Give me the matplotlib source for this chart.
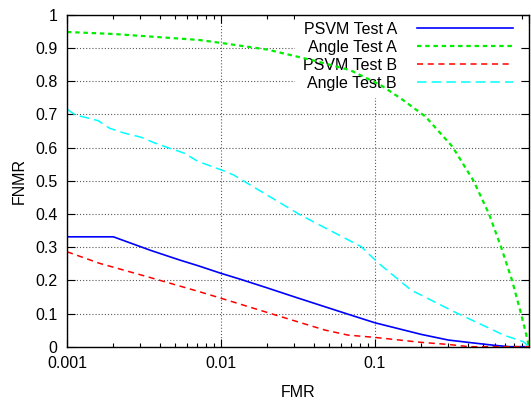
import matplotlib
matplotlib.use("Agg")
import matplotlib.pyplot as plt
from matplotlib.ticker import FixedLocator, LogLocator, NullFormatter

plt.rcParams['font.family'] = ['Liberation Sans', 'DejaVu Sans']
plt.rcParams['font.size'] = 11.5

# ROC-style error curves (FNMR vs FMR)
psvm_a_fmr = [0.001, 0.002, 0.0035, 0.0054, 0.0072, 0.01, 0.0134, 0.02, 0.03,
              0.0667, 0.1, 0.2, 0.3, 0.46, 0.6, 0.75, 1.0]
psvm_a_fnmr = [0.331, 0.331, 0.29, 0.261, 0.243, 0.221, 0.203, 0.177, 0.150,
               0.098, 0.072, 0.037, 0.02, 0.01, 0.004, 0.0, 0.0]

angle_a_fmr = [0.001, 0.002, 0.0072, 0.01, 0.02, 0.04, 0.069, 0.109, 0.15, 0.213,
               0.319, 0.436, 0.55, 0.659, 0.776, 0.887, 0.95, 1.0]
angle_a_fnmr = [0.948, 0.942, 0.924, 0.915, 0.895, 0.862, 0.833, 0.788, 0.745, 0.693,
                0.602, 0.5, 0.4, 0.3, 0.2, 0.1, 0.045, 0.0]

psvm_b_fmr = [0.001, 0.00163, 0.00343, 0.0072, 0.01, 0.02, 0.03, 0.0474, 0.0667,
              0.1, 0.2, 0.296, 0.41, 1.0]
psvm_b_fnmr = [0.286, 0.251, 0.209, 0.166, 0.146, 0.103, 0.078, 0.05, 0.035,
               0.028, 0.013, 0.007, 0.0, 0.0]

angle_b_fmr = [0.001, 0.00102, 0.00113, 0.00131, 0.00159, 0.00189, 0.00237,
               0.00303, 0.00369, 0.0045, 0.00577, 0.00703, 0.00858, 0.0104,
               0.0121, 0.0327, 0.0816, 0.0898, 0.107, 0.171, 0.327, 0.686,
               0.92, 1.0]
angle_b_fnmr = [0.715, 0.713, 0.698, 0.691, 0.681, 0.658, 0.643,
                0.631, 0.614, 0.600, 0.583, 0.559, 0.544, 0.530,
                0.517, 0.397, 0.301, 0.282, 0.249, 0.171, 0.105, 0.035,
                0.015, 0.0]

x_ticks = [0.001, 0.01, 0.1, 1]
x_tick_labels = ['0.001', '0.01', '0.1', '']
y_ticks = [0, 0.1, 0.2, 0.3, 0.4, 0.5, 0.6, 0.7, 0.8, 0.9, 1]

fig = plt.figure(figsize=(5.31, 4.01), dpi=100)
ax = fig.add_axes([0.1262, 0.1354, 0.8700, 0.8279])

ax.plot(psvm_a_fmr, psvm_a_fnmr, color='#0000ff', lw=1.2, label='PSVM Test A')
ax.plot(angle_a_fmr, angle_a_fnmr, color='#00ee00', lw=1.6,
        dashes=(2.0, 1.7), label='Angle Test A')
ax.plot(psvm_b_fmr, psvm_b_fnmr, color='#ff0000', lw=1.1,
        dashes=(4.0, 3.0), label='PSVM Test B')
ax.plot(angle_b_fmr, angle_b_fnmr, color='#00ffff', lw=1.1,
        dashes=(6.2, 3.4), label='Angle Test B')

ax.set_xscale('log')
ax.set_xlim(0.001, 1)
ax.set_ylim(0, 1)
ax.xaxis.set_major_locator(FixedLocator(x_ticks))
ax.set_xticklabels(x_tick_labels)
ax.xaxis.set_minor_locator(LogLocator(base=10, subs=range(2, 10)))
ax.xaxis.set_minor_formatter(NullFormatter())
ax.set_yticks(y_ticks)
ax.set_yticklabels([f'{v:g}' for v in y_ticks])

ax.tick_params(which='both', direction='in', top=True, right=True, width=0.8)
ax.tick_params(which='major', length=6)
ax.tick_params(which='minor', length=3)
ax.tick_params(axis='x', pad=7)
ax.tick_params(axis='y', pad=7)

ax.set_axisbelow(True)
ax.grid(True, which='major', color='0.35', linestyle=(0, (1, 1.8)), lw=0.8)
for s in ax.spines.values():
    s.set_linewidth(1.0)

ax.set_xlabel('FMR', labelpad=10)
ax.set_ylabel('FNMR', labelpad=6)

leg = ax.legend(loc='upper right', bbox_to_anchor=(0.98, 1.0), borderaxespad=0,
                markerfirst=False, frameon=True, fancybox=False, framealpha=1,
                edgecolor='none', handlelength=6.0, handletextpad=1.25,
                labelspacing=0.19, borderpad=0.45)
leg.set_zorder(1.5)

fig.savefig('out.png', dpi=100)
